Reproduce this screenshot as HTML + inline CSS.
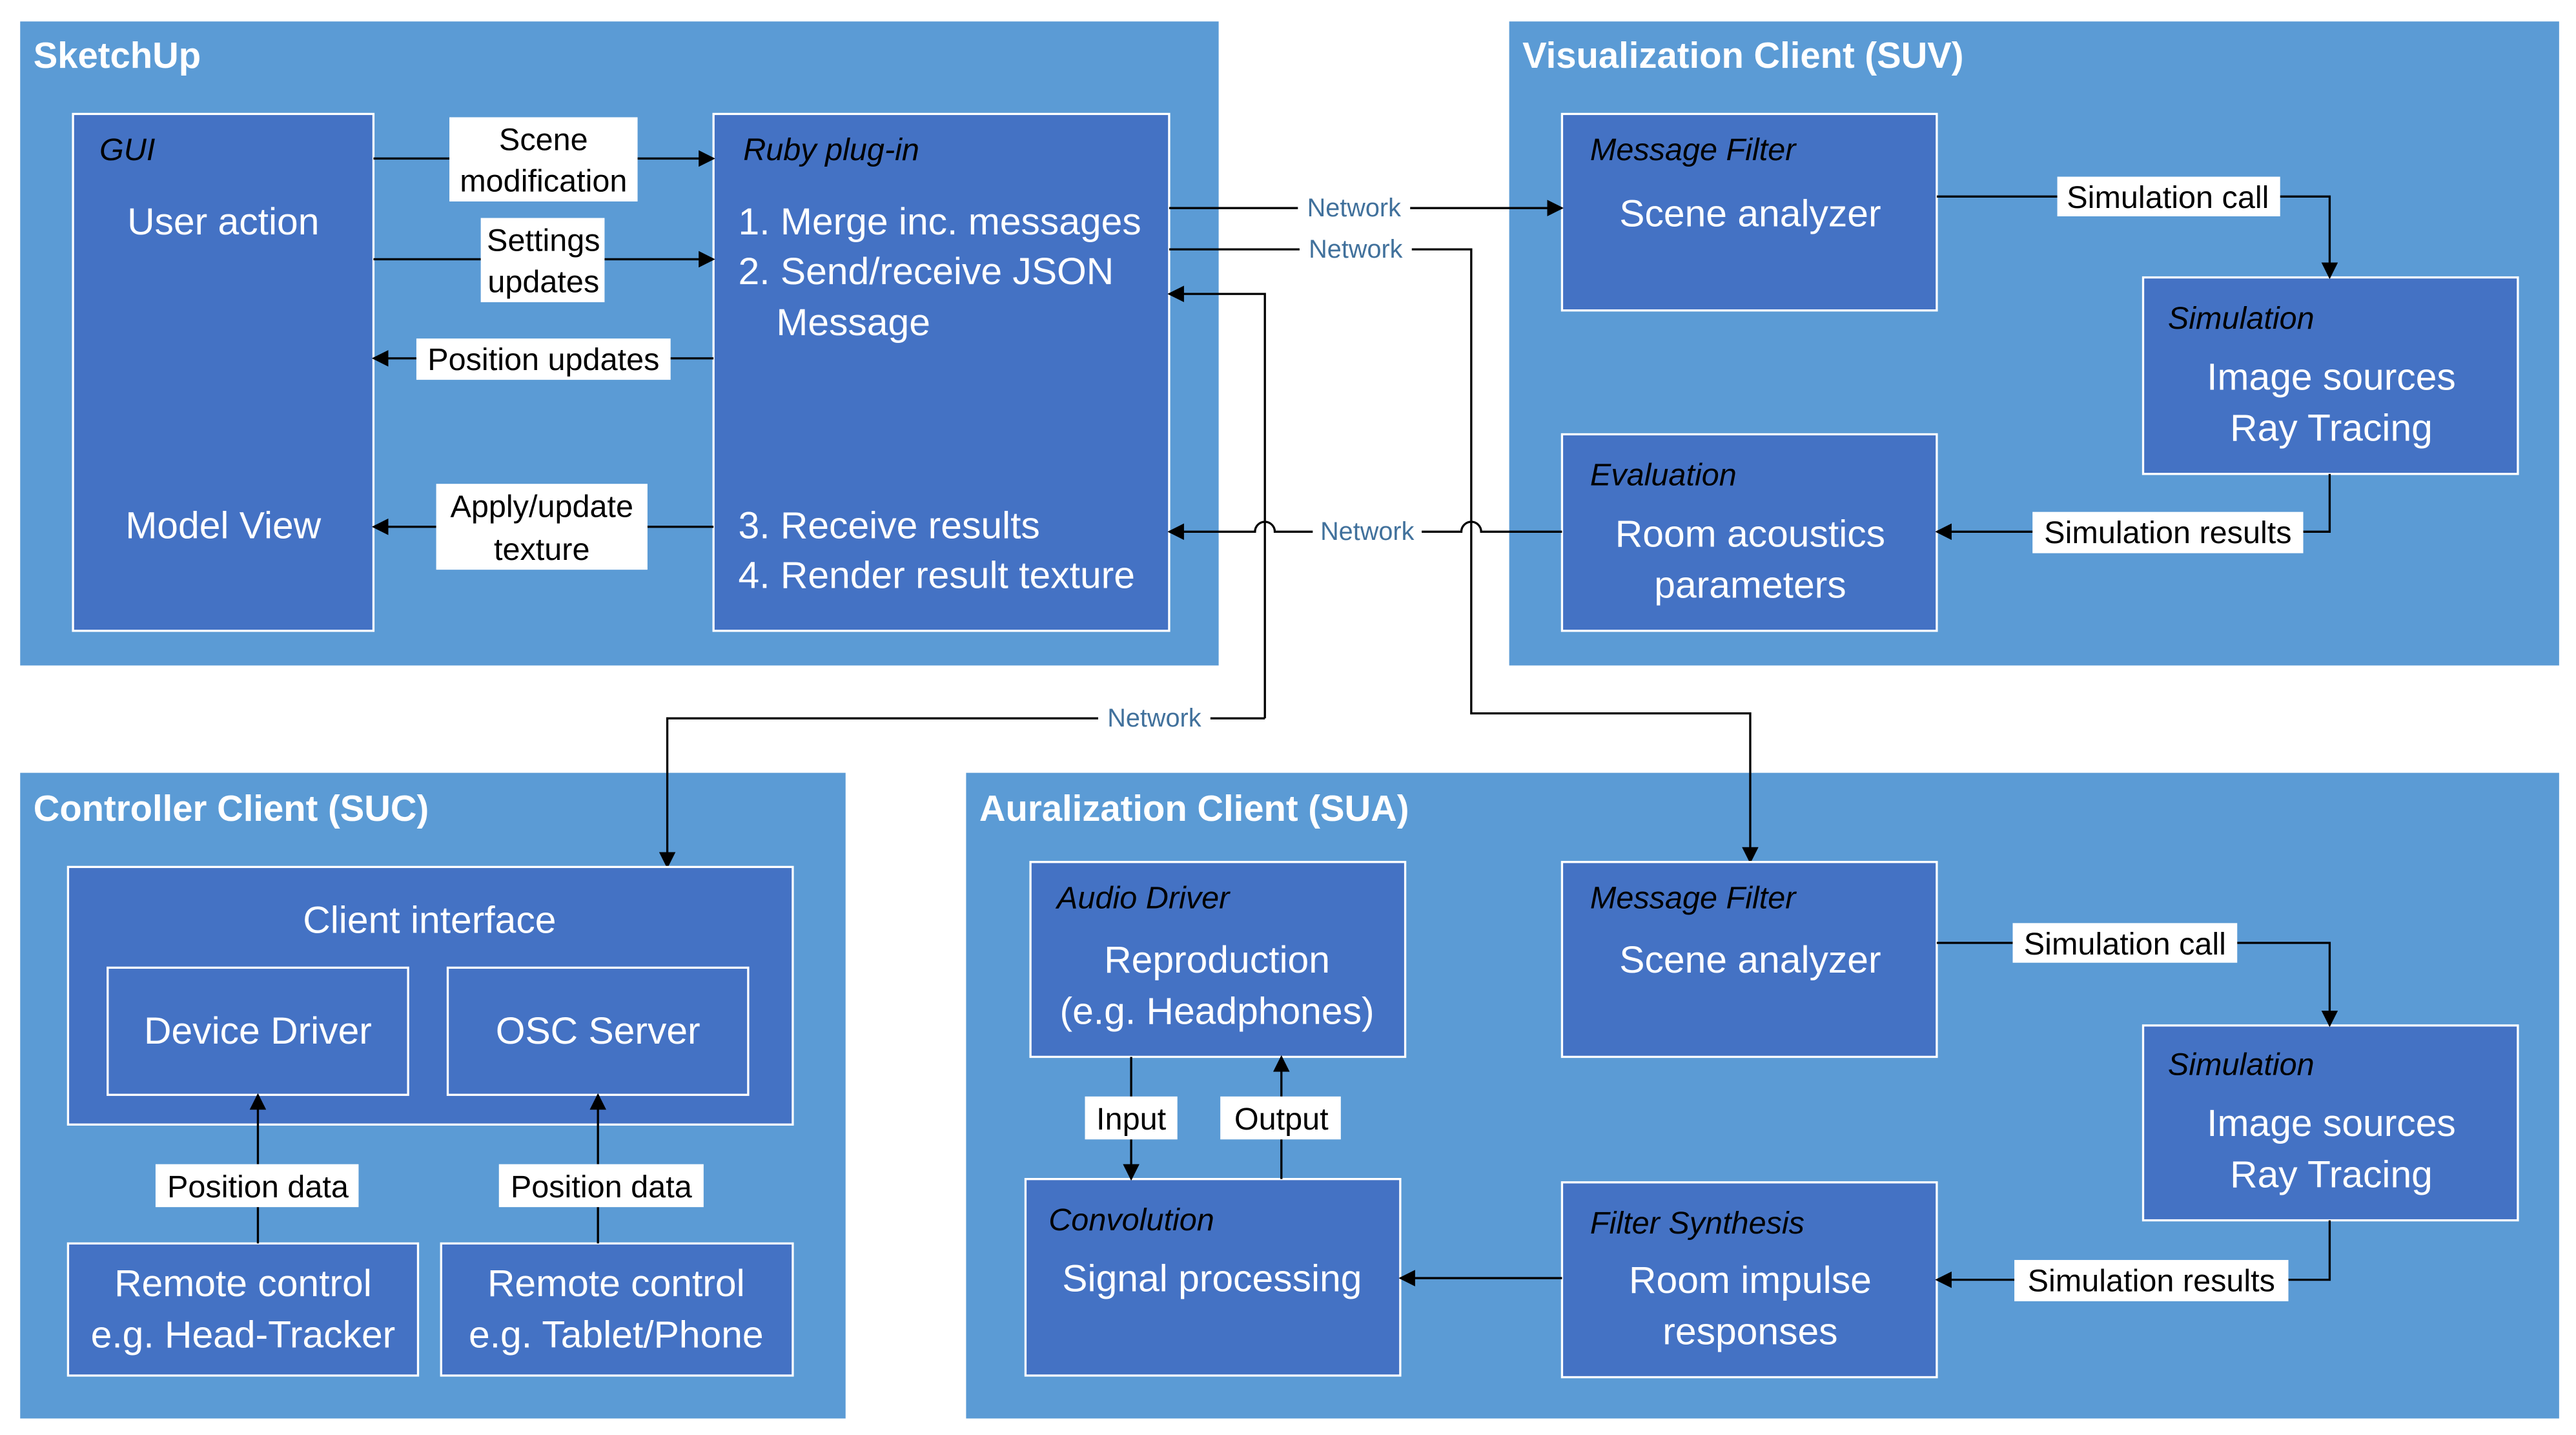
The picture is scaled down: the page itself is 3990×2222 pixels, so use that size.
<!DOCTYPE html>
<html><head><meta charset="utf-8"><style>
html,body{margin:0;padding:0;background:#fff;}
svg{display:block;}
text{font-family:"Liberation Sans",sans-serif;}
.t{fill:#fff;font-weight:bold;font-size:22px;}
.w{fill:#fff;font-size:23px;}
.i{fill:#000;font-style:italic;font-size:19px;}
.l{fill:#000;font-size:19px;}
.n{fill:#41719C;font-size:15.5px;}
.c{fill:#5B9BD5;}
.b{fill:#4472C4;stroke:#fff;stroke-width:1.3;}
.ln{stroke:#000;stroke-width:1.3;fill:none;}
.lb{fill:#fff;}
</style></head><body>
<svg width="3990" height="2222" viewBox="0 0 1560 869" xmlns="http://www.w3.org/2000/svg">
<defs>
<marker id="a" markerWidth="10" markerHeight="10" refX="9" refY="5" orient="auto" markerUnits="userSpaceOnUse">
<path d="M0,0 L10,5 L0,10 z" fill="#000"/></marker>
</defs>
<rect width="1560" height="869" fill="#fff"/>
<rect class="c" x="12" y="13" width="726" height="390"/>
<rect class="c" x="914" y="13" width="636" height="390"/>
<rect class="c" x="12" y="468" width="500" height="391"/>
<rect class="c" x="585" y="468" width="965" height="391"/>
<text class="t" x="20" y="41">SketchUp</text>
<text class="t" x="922" y="41">Visualization Client (SUV)</text>
<text class="t" x="20" y="497">Controller Client (SUC)</text>
<text class="t" x="593" y="497">Auralization Client (SUA)</text>

<rect class="b" x="44" y="69" width="182" height="313"/>
<text class="i" x="60" y="97">GUI</text>
<text class="w" x="135" y="142" text-anchor="middle">User action</text>
<text class="w" x="135" y="326" text-anchor="middle">Model View</text>
<rect class="b" x="432" y="69" width="276" height="313"/>
<text class="i" x="450" y="97">Ruby plug-in</text>
<text class="w" x="447" y="142">1. Merge inc. messages</text>
<text class="w" x="447" y="172">2. Send/receive JSON</text>
<text class="w" x="470" y="203">Message</text>
<text class="w" x="447" y="326">3. Receive results</text>
<text class="w" x="447" y="356">4. Render result texture</text>

<line class="ln" x1="226" y1="96" x2="432" y2="96" marker-end="url(#a)"/>
<rect class="lb" x="272" y="71" width="114" height="51"/>
<text class="l" x="329" y="91" text-anchor="middle">Scene</text>
<text class="l" x="329" y="116" text-anchor="middle">modification</text>
<line class="ln" x1="226" y1="157" x2="432" y2="157" marker-end="url(#a)"/>
<rect class="lb" x="291" y="132" width="75" height="51"/>
<text class="l" x="329" y="152" text-anchor="middle">Settings</text>
<text class="l" x="329" y="177" text-anchor="middle">updates</text>
<line class="ln" x1="432" y1="217" x2="226" y2="217" marker-end="url(#a)"/>
<rect class="lb" x="252" y="205" width="154" height="25"/>
<text class="l" x="329" y="224" text-anchor="middle">Position updates</text>
<line class="ln" x1="432" y1="319" x2="226" y2="319" marker-end="url(#a)"/>
<rect class="lb" x="264" y="293" width="128" height="52"/>
<text class="l" x="328" y="313" text-anchor="middle">Apply/update</text>
<text class="l" x="328" y="339" text-anchor="middle">texture</text>

<rect class="b" x="946" y="69" width="227" height="119"/>
<text class="i" x="963" y="97">Message Filter</text>
<text class="w" x="1060" y="137" text-anchor="middle">Scene analyzer</text>
<rect class="b" x="1298" y="168" width="227" height="119"/>
<text class="i" x="1313" y="199">Simulation</text>
<text class="w" x="1412" y="236" text-anchor="middle">Image sources</text>
<text class="w" x="1412" y="267" text-anchor="middle">Ray Tracing</text>
<rect class="b" x="946" y="263" width="227" height="119"/>
<text class="i" x="963" y="294">Evaluation</text>
<text class="w" x="1060" y="331" text-anchor="middle">Room acoustics</text>
<text class="w" x="1060" y="362" text-anchor="middle">parameters</text>
<polyline class="ln" points="1173,119 1411,119 1411,168" marker-end="url(#a)"/>
<rect class="lb" x="1246" y="107" width="135" height="24"/>
<text class="l" x="1313" y="126" text-anchor="middle">Simulation call</text>
<polyline class="ln" points="1411,287 1411,322 1173,322" marker-end="url(#a)"/>
<rect class="lb" x="1231" y="310" width="164" height="25"/>
<text class="l" x="1313" y="329" text-anchor="middle">Simulation results</text>

<line class="ln" x1="708" y1="126" x2="946" y2="126" marker-end="url(#a)"/>
<rect class="lb" x="786" y="118" width="68" height="16"/>
<text class="n" x="820" y="131" text-anchor="middle">Network</text>
<polyline class="ln" points="708,151 891,151 891,432 1060,432 1060,522" marker-end="url(#a)"/>
<rect class="lb" x="787" y="143" width="68" height="16"/>
<text class="n" x="821" y="156" text-anchor="middle">Network</text>
<path class="ln" d="M946,322 L897,322 A5,5 0 0 0 885,322 L772,322 A5,5 0 0 0 760,322 L708,322" marker-end="url(#a)"/>
<rect class="lb" x="795" y="314" width="66" height="16"/>
<text class="n" x="828" y="327" text-anchor="middle">Network</text>
<polyline class="ln" points="766,435 766,178 708,178" marker-end="url(#a)"/>
<polyline class="ln" points="766,435 404,435 404,525" marker-end="url(#a)"/>
<rect class="lb" x="665" y="427" width="68" height="16"/>
<text class="n" x="699" y="440" text-anchor="middle">Network</text>

<rect class="b" x="41" y="525" width="439" height="156"/>
<text class="w" x="260" y="565" text-anchor="middle">Client interface</text>
<rect class="b" x="65" y="586" width="182" height="77"/>
<text class="w" x="156" y="632" text-anchor="middle">Device Driver</text>
<rect class="b" x="271" y="586" width="182" height="77"/>
<text class="w" x="362" y="632" text-anchor="middle">OSC Server</text>
<rect class="b" x="41" y="753" width="212" height="80"/>
<text class="w" x="147" y="785" text-anchor="middle">Remote control</text>
<text class="w" x="147" y="816" text-anchor="middle">e.g. Head-Tracker</text>
<rect class="b" x="267" y="753" width="213" height="80"/>
<text class="w" x="373" y="785" text-anchor="middle">Remote control</text>
<text class="w" x="373" y="816" text-anchor="middle">e.g. Tablet/Phone</text>
<line class="ln" x1="156" y1="753" x2="156" y2="663" marker-end="url(#a)"/>
<rect class="lb" x="94" y="705" width="123" height="26"/>
<text class="l" x="156" y="725" text-anchor="middle">Position data</text>
<line class="ln" x1="362" y1="753" x2="362" y2="663" marker-end="url(#a)"/>
<rect class="lb" x="302" y="705" width="124" height="26"/>
<text class="l" x="364" y="725" text-anchor="middle">Position data</text>

<rect class="b" x="624" y="522" width="227" height="118"/>
<text class="i" x="640" y="550">Audio Driver</text>
<text class="w" x="737" y="589" text-anchor="middle">Reproduction</text>
<text class="w" x="737" y="620" text-anchor="middle">(e.g. Headphones)</text>
<rect class="b" x="621" y="714" width="227" height="119"/>
<text class="i" x="635" y="745">Convolution</text>
<text class="w" x="734" y="782" text-anchor="middle">Signal processing</text>
<line class="ln" x1="685" y1="640" x2="685" y2="714" marker-end="url(#a)"/>
<rect class="lb" x="657" y="664" width="56" height="26"/>
<text class="l" x="685" y="684" text-anchor="middle">Input</text>
<line class="ln" x1="776" y1="714" x2="776" y2="640" marker-end="url(#a)"/>
<rect class="lb" x="739" y="664" width="73" height="26"/>
<text class="l" x="776" y="684" text-anchor="middle">Output</text>
<rect class="b" x="946" y="522" width="227" height="118"/>
<text class="i" x="963" y="550">Message Filter</text>
<text class="w" x="1060" y="589" text-anchor="middle">Scene analyzer</text>
<rect class="b" x="1298" y="621" width="227" height="118"/>
<text class="i" x="1313" y="651">Simulation</text>
<text class="w" x="1412" y="688" text-anchor="middle">Image sources</text>
<text class="w" x="1412" y="719" text-anchor="middle">Ray Tracing</text>
<rect class="b" x="946" y="716" width="227" height="118"/>
<text class="i" x="963" y="747">Filter Synthesis</text>
<text class="w" x="1060" y="783" text-anchor="middle">Room impulse</text>
<text class="w" x="1060" y="814" text-anchor="middle">responses</text>
<polyline class="ln" points="1173,571 1411,571 1411,621" marker-end="url(#a)"/>
<rect class="lb" x="1219" y="559" width="136" height="24"/>
<text class="l" x="1287" y="578" text-anchor="middle">Simulation call</text>
<polyline class="ln" points="1411,739 1411,775 1173,775" marker-end="url(#a)"/>
<rect class="lb" x="1220" y="763" width="166" height="25"/>
<text class="l" x="1303" y="782" text-anchor="middle">Simulation results</text>
<line class="ln" x1="946" y1="774" x2="848" y2="774" marker-end="url(#a)"/>
</svg>
</body></html>
